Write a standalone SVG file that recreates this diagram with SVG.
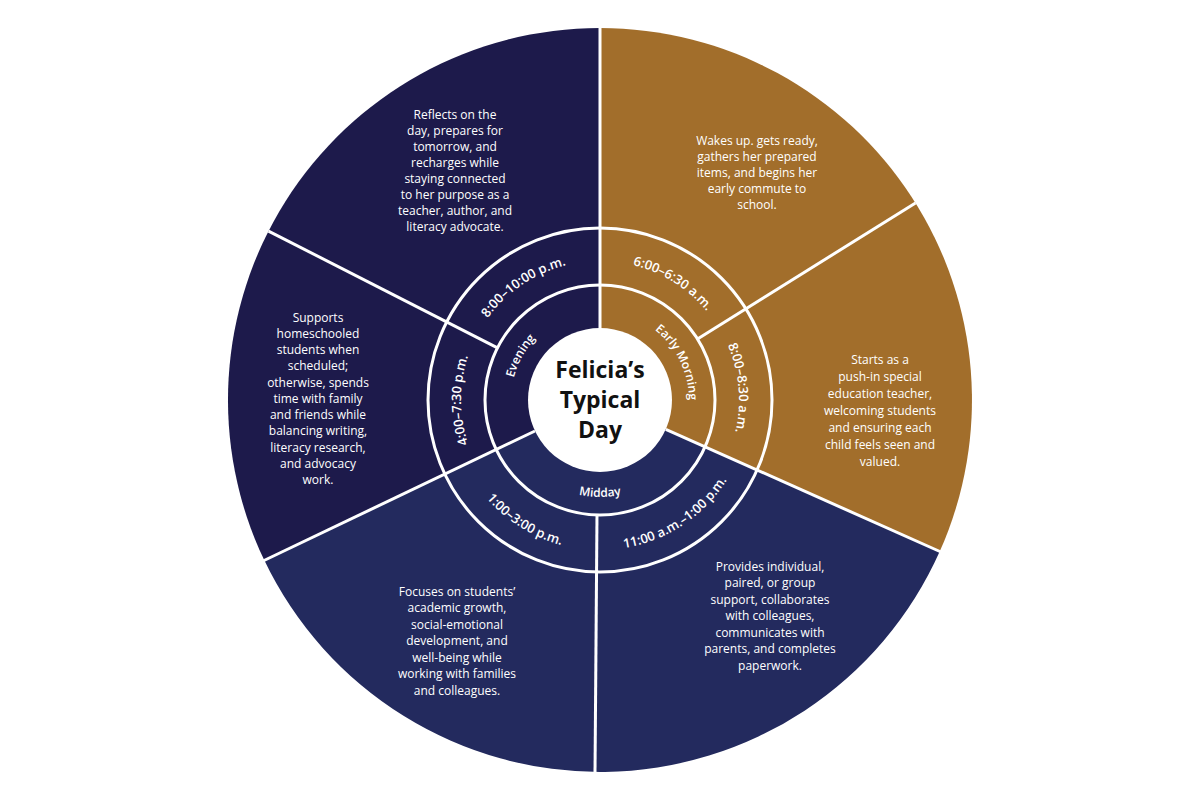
<svg xmlns="http://www.w3.org/2000/svg" width="1200" height="800" viewBox="0 0 1200 800">
<style>
.desc{font-family:"Open Sans","Liberation Sans",sans-serif;font-size:12px;fill:#fff;text-anchor:middle}
.time{font-family:"Open Sans","Liberation Sans",sans-serif;font-size:13px;font-weight:600;fill:#fff}
.cat{font-family:"Open Sans","Liberation Sans",sans-serif;font-size:12px;font-weight:600;fill:#fff}
.ln{stroke:#fff;stroke-width:3;fill:none}
.title{font-family:"Open Sans","Liberation Sans",sans-serif;font-size:23px;font-weight:700;fill:#111;text-anchor:middle}
</style>
<defs>
<path id="a810" d="M463.1,375.9 A139,139 0 0 1 628.9,264"/>
<path id="a4" d="M501.7,498.3 A139,139 0 0 1 501.7,301.7"/>
<path id="a6" d="M568.7,264.6 A139,139 0 0 1 735.4,368.7"/>
<path id="a8" d="M689.3,293.5 A139,139 0 0 1 706.5,489.3"/>
<path id="a11" d="M570.1,547 A150,150 0 0 0 747,429.9"/>
<path id="a1" d="M453.8,433.7 A150,150 0 0 0 633.7,546.2"/>
<path id="aEv" d="M514.4,424.5 A89,89 0 0 1 575.5,314.4"/>
<path id="aEm" d="M629,315.9 A89,89 0 0 1 684.1,429"/>
<path id="aMd" d="M531.4,468.6 A97,97 0 0 0 668.6,468.6"/>
</defs>
<rect width="1200" height="800" fill="#fff"/>
<g id="evening">
<path d="M600,400 L264.2,560.1 A372,372 0 0 1 600,28 Z" fill="#1d1a4b"/>
</g>
<g id="early-morning">
<path d="M600,400 L600,28 A372,372 0 0 1 939.8,551.3 Z" fill="#a26e2b"/>
</g>
<g id="midday">
<path d="M600,400 L939.8,551.3 A372,372 0 0 1 264.2,560.1 Z" fill="#232a5e"/>
</g>
<g id="connectors">
<line class="ln" x1="600" y1="26" x2="600" y2="330"/>
<line class="ln" x1="665.8" y1="429.3" x2="941" y2="552"/>
<line class="ln" x1="535" y1="431" x2="263" y2="561"/>
<line class="ln" x1="497.5" y1="347.8" x2="268.5" y2="231.1"/>
<line class="ln" x1="697.5" y1="339.1" x2="915.5" y2="202.9"/>
<line class="ln" x1="597" y1="514" x2="595" y2="773"/>
<circle class="ln" cx="600" cy="400" r="115"/>
<circle class="ln" cx="600" cy="400" r="172"/>
</g>
<g id="center">
<circle cx="600" cy="400" r="72" fill="#fff"/>
<text class="title" x="600" y="378">Felicia’s</text>
<text class="title" x="600" y="408">Typical</text>
<text class="title" x="600" y="438">Day</text>
</g>
<g id="labels-time">
<text class="time"><textPath href="#a810" startOffset="50%" text-anchor="middle">8:00–10:00 p.m.</textPath></text>
<text class="time"><textPath href="#a4" startOffset="50%" text-anchor="middle">4:00–7:30 p.m.</textPath></text>
<text class="time"><textPath href="#a6" startOffset="50%" text-anchor="middle">6:00–6:30 a.m.</textPath></text>
<text class="time"><textPath href="#a8" startOffset="50%" text-anchor="middle">8:00–8:30 a.m.</textPath></text>
<text class="time"><textPath href="#a11" startOffset="50%" text-anchor="middle">11:00 a.m.–1:00 p.m.</textPath></text>
<text class="time"><textPath href="#a1" startOffset="50%" text-anchor="middle">1:00–3:00 p.m.</textPath></text>
<text class="cat"><textPath href="#aEv" startOffset="50%" text-anchor="middle">Evening</textPath></text>
<text class="cat"><textPath href="#aEm" startOffset="50%" text-anchor="middle">Early Morning</textPath></text>
<text class="cat"><textPath href="#aMd" startOffset="50%" text-anchor="middle">Midday</textPath></text>
</g>
<g id="desc-evening-late">
<text class="desc" x="455" y="119">Reflects on the</text>
<text class="desc" x="455" y="135">day, prepares for</text>
<text class="desc" x="455" y="151">tomorrow, and</text>
<text class="desc" x="455" y="167">recharges while</text>
<text class="desc" x="455" y="183">staying connected</text>
<text class="desc" x="455" y="199">to her purpose as a</text>
<text class="desc" x="455" y="215">teacher, author, and</text>
<text class="desc" x="455" y="231">literacy advocate.</text>
</g>
<g id="desc-evening-early">
<text class="desc" x="318" y="322">Supports</text>
<text class="desc" x="318" y="338">homeschooled</text>
<text class="desc" x="318" y="354">students when</text>
<text class="desc" x="318" y="370">scheduled;</text>
<text class="desc" x="318" y="387">otherwise, spends</text>
<text class="desc" x="318" y="403">time with family</text>
<text class="desc" x="318" y="419">and friends while</text>
<text class="desc" x="318" y="435">balancing writing,</text>
<text class="desc" x="318" y="452">literacy research,</text>
<text class="desc" x="318" y="468">and advocacy</text>
<text class="desc" x="318" y="484">work.</text>
</g>
<g id="desc-wake">
<text class="desc" x="757" y="145">Wakes up. gets ready,</text>
<text class="desc" x="757" y="161">gathers her prepared</text>
<text class="desc" x="757" y="177">items, and begins her</text>
<text class="desc" x="757" y="193">early commute to</text>
<text class="desc" x="757" y="209">school.</text>
</g>
<g id="desc-start">
<text class="desc" x="880" y="364">Starts as a</text>
<text class="desc" x="880" y="381">push-in special</text>
<text class="desc" x="880" y="398">education teacher,</text>
<text class="desc" x="880" y="415">welcoming students</text>
<text class="desc" x="880" y="432">and ensuring each</text>
<text class="desc" x="880" y="449">child feels seen and</text>
<text class="desc" x="880" y="466">valued.</text>
</g>
<g id="desc-support">
<text class="desc" x="770" y="571">Provides individual,</text>
<text class="desc" x="770" y="587">paired, or group</text>
<text class="desc" x="770" y="604">support, collaborates</text>
<text class="desc" x="770" y="620">with colleagues,</text>
<text class="desc" x="770" y="637">communicates with</text>
<text class="desc" x="770" y="653">parents, and completes</text>
<text class="desc" x="770" y="670">paperwork.</text>
</g>
<g id="desc-focus">
<text class="desc" x="457" y="596">Focuses on students’</text>
<text class="desc" x="457" y="612">academic growth,</text>
<text class="desc" x="457" y="629">social-emotional</text>
<text class="desc" x="457" y="645">development, and</text>
<text class="desc" x="457" y="662">well-being while</text>
<text class="desc" x="457" y="678">working with families</text>
<text class="desc" x="457" y="695">and colleagues.</text>
</g>
</svg>
